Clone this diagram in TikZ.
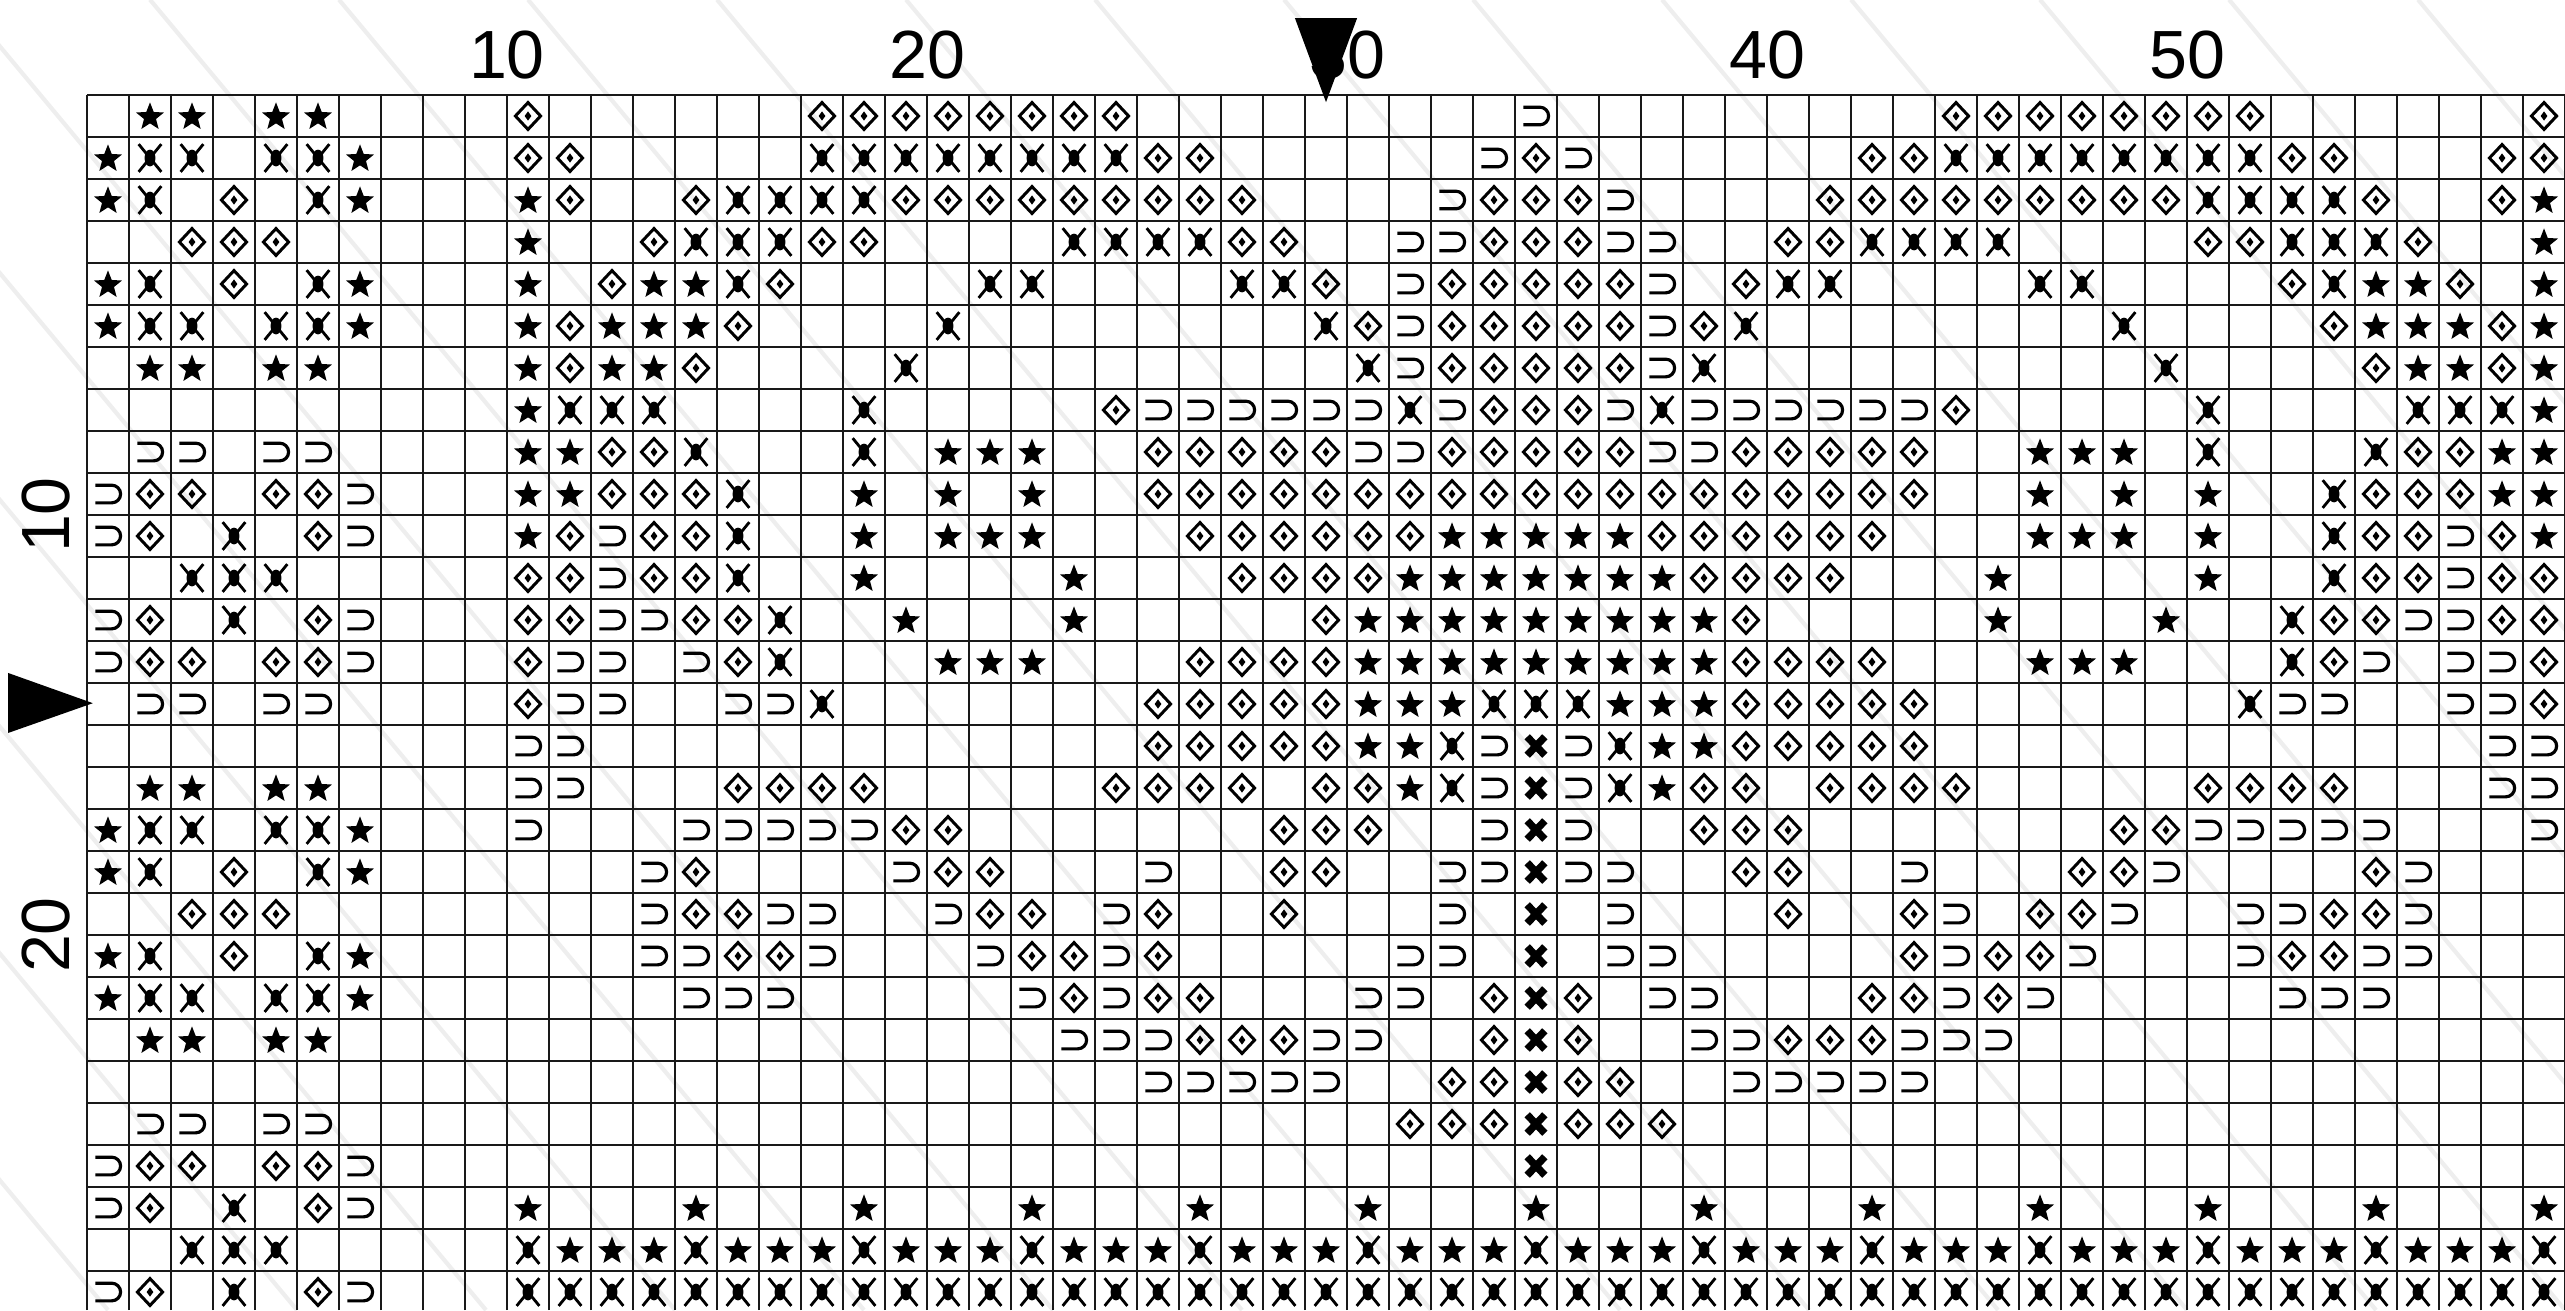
\documentclass[tikz,border=0pt]{standalone}
\usepackage{fontspec}
\setmainfont{Liberation Sans}

\newcount\chartcol
\def\chartrow#1#2{\def\chartr{#2}\chartcol=0 \chartscan#1\relax}
\def\chartscan#1{\ifx\relax#1\else\advance\chartcol by 1 \chartcell#1\expandafter\chartscan\fi}
\def\chartcell#1{%
  \if S#1\pic at (\the\chartcol-0.5,0.5-\chartr) {starSym};\fi
  \if X#1\pic at (\the\chartcol-0.5,0.5-\chartr) {crossSym};\fi
  \if D#1\pic at (\the\chartcol-0.5,0.5-\chartr) {diamondSym};\fi
  \if U#1\pic at (\the\chartcol-0.5,0.5-\chartr) {hookSym};\fi
  \if B#1\pic at (\the\chartcol-0.5,0.5-\chartr) {boldXSym};\fi}

\tikzset{
  starSym/.pic={\fill[shift={(0,-0.025)}] (90:0.35) \foreach \k in {0,...,4} {-- ({90+72*\k}:0.35) -- ({126+72*\k}:0.15)} -- cycle;},
  crossSym/.pic={\draw[line width=0.8pt] (-0.27,0.33) -- (0.27,-0.33) (-0.27,-0.33) -- (0.27,0.33);
    \fill (0,0) ellipse [x radius=0.13, y radius=0.2];},
  diamondSym/.pic={\draw[line width=0.85pt] (0,0.32) -- (0.3,0) -- (0,-0.32) -- (-0.3,0) -- cycle;
    \fill (0,0.11) -- (0.08,0) -- (0,-0.11) -- (-0.08,0) -- cycle;},
  hookSym/.pic={\draw[line width=0.9pt] (-0.3,0.21) -- (0.09,0.21) arc[start angle=90, end angle=-90, radius=0.21] -- (-0.3,-0.21);},
  boldXSym/.pic={\draw[line width=2.1pt] (-0.21,0.22) -- (0.21,-0.22) (-0.21,-0.22) -- (0.21,0.22);},
  labelFont/.style={font=\fontsize{19.4}{23}\selectfont, inner sep=0pt}
}

\begin{document}
\begin{tikzpicture}[x=4.2mm,y=4.2mm]
  \definecolor{gridInk}{RGB}{25,25,25}
  \definecolor{waterInk}{RGB}{238,238,238}
  \useasboundingbox (-2.0714,-28.9286) rectangle (59,2.2619);
  % faint watermark strokes
  \begin{scope}
    \clip (-2.0714,-28.9286) rectangle (59,2.2619);
    \foreach \w in {-30,-25.5,...,62}
      \draw[waterInk, line width=1.2pt] (\w,2.27) -- ++(26,-31.2);
  \end{scope}
  \draw[gridInk, line width=0.6pt, step={(1,1)}] (0,-28.93) grid (59,0);
  % chart rows, one character per cell
  \chartrow{.SS.SS.... D......DDD DDDDD..... ....U..... ....DDDDDD DD......D}{1}
  \chartrow{SXX.XXS... DD.....XXX XXXXXDD... ...UDU.... ..DDXXXXXX XXDD...DD}{2}
  \chartrow{SX.D.XS... SD..DXXXXD DDDDDDDD.. ..UDDDU... .DDDDDDDDD XXXXD..DS}{3}
  \chartrow{..DDD..... S..DXXXDD. ...XXXXDD. .UUDDDUU.. DDXXXX.... DDXXXD..S}{4}
  \chartrow{SX.D.XS... S.DSSXD... .XX....XXD .UDDDDDU.D XX....XX.. ..DXSSD.S}{5}
  \chartrow{SXX.XXS... SDSSSD.... X........X DUDDDDDUDX ........X. ...DSSSDS}{6}
  \chartrow{.SS.SS.... SDSSD....X .......... XUDDDDDUX. .........X ....DSSDS}{7}
  \chartrow{.......... SXXX....X. ....DUUUUU UXUDDDUXUU UUUUD..... X....XXXS}{8}
  \chartrow{.UU.UU.... SSDDX...X. SSS..DDDDD UUDDDDDUUD DDDD..SSS. X...XDDSS}{9}
  \chartrow{UDD.DDU... SSDDDX..S. S.S..DDDDD DDDDDDDDDD DDDD..S.S. S..XDDDSS}{10}
  \chartrow{UD.X.DU... SDUDDX..S. SSS...DDDD DDSSSSSDDD DDD...SSS. S..XDDUDS}{11}
  \chartrow{..XXX..... DDUDDX..S. ...S...DDD DSSSSSSSDD DD...S.... S..XDDUDD}{12}
  \chartrow{UD.X.DU... DDUUDDX..S ...S.....D SSSSSSSSSD .....S...S ..XDDUUDD}{13}
  \chartrow{UDD.DDU... DUU.UDX... SSS...DDDD SSSSSSSSSD DDD...SSS. ..XDU.UUD}{14}
  \chartrow{.UU.UU.... DUU..UUX.. .....DDDDD SSSXXXSSSD DDDD...... .XUU..UUD}{15}
  \chartrow{.......... UU........ .....DDDDD SSXUBUXSSD DDDD...... .......UU}{16}
  \chartrow{.SS.SS.... UU...DDDD. ....DDDD.D DSXUBUXSDD .DDDD..... DDDD...UU}{17}
  \chartrow{SXX.XXS... U...UUUUUD D.......DD D..UBU..DD D.......DD UUUUU...U}{18}
  \chartrow{SX.D.XS... ...UD....U DD...U..DD ..UUBUU..D D..U...DDU ....DU...}{19}
  \chartrow{..DDD..... ...UDDUU.. UDD.UD..D. ..U.B.U... D..DU.DDU. .UUDDU...}{20}
  \chartrow{SX.D.XS... ...UUDDU.. .UDDUD.... .UU.B.UU.. ...DUDDU.. .UDDUU...}{21}
  \chartrow{SXX.XXS... ....UUU... ..UDUDD... UU.DBD.UU. ..DDUDU... ..UUU....}{22}
  \chartrow{.SS.SS.... .......... ...UUUDDDU U..DBD..UU DDDUUU.... .........}{23}
  \chartrow{.......... .......... .....UUUUU ..DDBDD..U UUUU...... .........}{24}
  \chartrow{.UU.UU.... .......... .......... .DDDBDDD.. .......... .........}{25}
  \chartrow{UDD.DDU... .......... .......... ....B..... .......... .........}{26}
  \chartrow{UD.X.DU... S...S...S. ..S...S... S...S...S. ..S...S... S...S...S}{27}
  \chartrow{..XXX..... XSSSXSSSXS SSXSSSXSSS XSSSXSSSXS SSXSSSXSSS XSSSXSSSX}{28}
  \chartrow{UD.X.DU... XXXXXXXXXX XXXXXXXXXX XXXXXXXXXX XXXXXXXXXX XXXXXXXXX}{29}
  % counts
  \foreach \c in {10,20,...,50}
    \node[labelFont] (colLab\c) at (\c,0.952) {\c};
  \foreach \r in {10,20}
    \node[labelFont, rotate=90] (rowLab\r) at (-0.976,-\r) {\r};
  % centre markers
  \fill (28.76,1.83) -- (30.24,1.83) -- (29.5,-0.17) -- cycle;
  \fill (-1.88,-13.76) -- (-1.88,-15.19) -- (0.14,-14.48) -- cycle;
\end{tikzpicture}
\end{document}
